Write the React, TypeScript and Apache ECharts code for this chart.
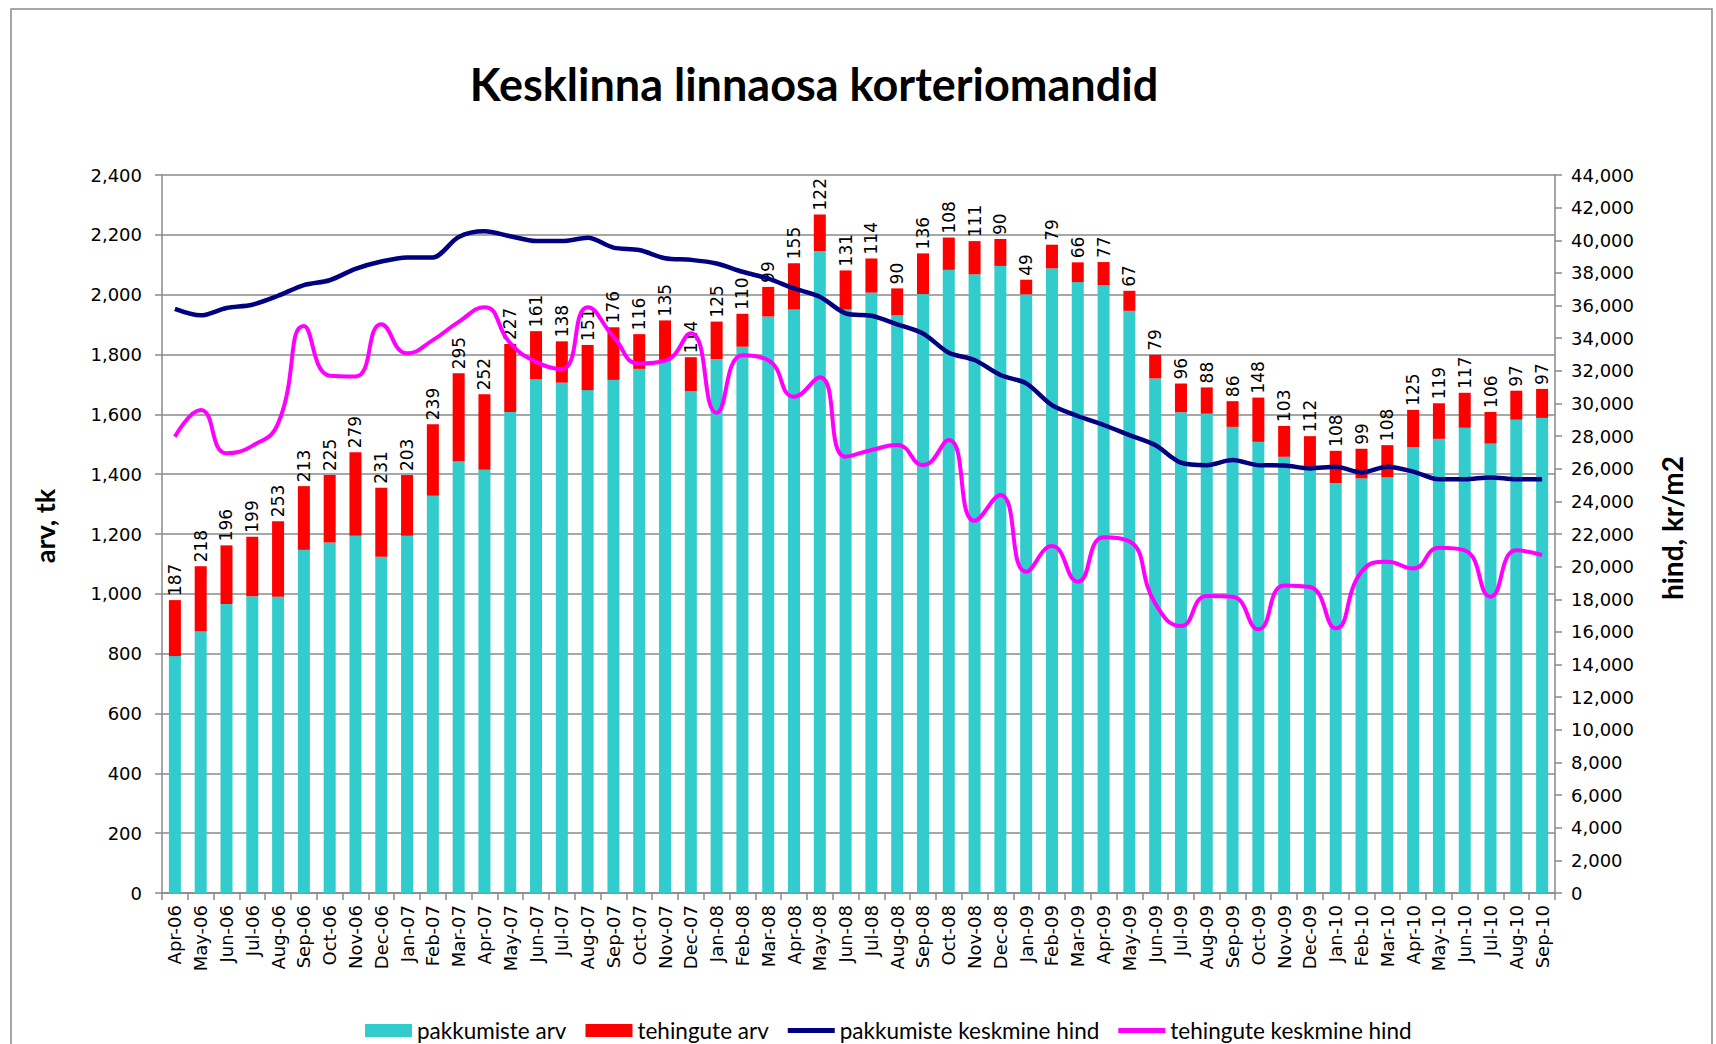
import React, { useEffect, useRef } from "react";
import * as echarts from "echarts";

const categories = [
  "Apr-06", "May-06", "Jun-06", "Jul-06", "Aug-06", "Sep-06", "Oct-06", "Nov-06", "Dec-06",
  "Jan-07", "Feb-07", "Mar-07", "Apr-07", "May-07", "Jun-07", "Jul-07", "Aug-07", "Sep-07", "Oct-07", "Nov-07", "Dec-07",
  "Jan-08", "Feb-08", "Mar-08", "Apr-08", "May-08", "Jun-08", "Jul-08", "Aug-08", "Sep-08", "Oct-08", "Nov-08", "Dec-08",
  "Jan-09", "Feb-09", "Mar-09", "Apr-09", "May-09", "Jun-09", "Jul-09", "Aug-09", "Sep-09", "Oct-09", "Nov-09", "Dec-09",
  "Jan-10", "Feb-10", "Mar-10", "Apr-10", "May-10", "Jun-10", "Jul-10", "Aug-10", "Sep-10",
];

// pakkumiste arv (offers count)
const offers = [
  792, 874, 966, 992, 990, 1147, 1172, 1194, 1124,
  1194, 1328, 1442, 1415, 1608, 1717, 1706, 1681, 1715, 1752, 1779, 1677,
  1785, 1826, 1927, 1950, 2146, 1950, 2007, 1931, 2002, 2083, 2068, 2096,
  2001, 2088, 2042, 2032, 1946, 1720, 1607, 1602, 1558, 1508, 1458, 1415,
  1370, 1386, 1389, 1490, 1518, 1555, 1502, 1582, 1588,
];

// tehingute arv (transactions count)
const deals = [
  187, 218, 196, 199, 253, 213, 225, 279, 231,
  203, 239, 295, 252, 227, 161, 138, 151, 176, 116, 135, 114,
  125, 110, 99, 155, 122, 131, 114, 90, 136, 108, 111, 90,
  49, 79, 66, 77, 67, 79, 96, 88, 86, 148, 103, 112,
  108, 99, 108, 125, 119, 117, 106, 97, 97,
];

// pakkumiste keskmine hind (offers average price)
const offerPrice = [
  35800, 35400, 35850, 36050, 36600, 37250, 37550, 38250, 38700,
  38950, 38950, 40200, 40550, 40250, 39950, 39950, 40150, 39550, 39400, 38900, 38800,
  38580, 38070, 37650, 37050, 36540, 35520, 35370, 34850, 34290, 33110, 32660, 31740,
  31230, 29900, 29230, 28680, 28060, 27450, 26370, 26220, 26530, 26220, 26200, 26020,
  26120, 25760, 26120, 25820, 25350, 25350, 25470, 25350, 25350,
];

// tehingute keskmine hind (transactions average price)
const dealPrice = [
  27960, 29600, 26950, 27400, 28780, 34750, 31700, 31650, 34850,
  33070, 33880, 35000, 35900, 33700, 32550, 32100, 35900, 34090, 32450, 32620, 34300,
  29430, 32950, 32650, 30410, 31600, 26740, 27150, 27450, 26230, 27760, 22810, 24390,
  19690, 21260, 19080, 21800, 21550, 17750, 16360, 18200, 18150, 16160, 18850, 18750,
  16220, 19690, 20300, 19890, 21150, 21000, 18160, 21000, 20710,
];

const GRAY = "#8a8a8a";
const TICK_FONT = "DejaVu Sans";
const LINE_ICON = "path://M0,0 M0,13 M0,4 L47,4 L47,9 L0,9 Z";

export default function App() {
  const ref = useRef<HTMLDivElement>(null);
  useEffect(() => {
    document.body.style.margin = "0";
    const chart = echarts.init(ref.current!, null, { renderer: "svg" });
    const fmt = (v: number) => v.toLocaleString("en-US");
    chart.setOption({
      animation: false,
      backgroundColor: "#ffffff",
      graphic: [
        {
          type: "rect",
          silent: true,
          z: -10,
          shape: { x: 11, y: 9, width: 1701, height: 1100 },
          style: { fill: "none", stroke: GRAY, lineWidth: 1.5 },
        },
        {
          type: "text",
          x: 814,
          y: 84,
          style: {
            text: "Kesklinna linnaosa korteriomandid",
            fontFamily: "Lato",
            fontWeight: "bold",
            fontSize: 45,
            fill: "#000",
            align: "center",
            verticalAlign: "middle",
          },
        },
        {
          type: "text",
          x: 44,
          y: 526,
          rotation: Math.PI / 2,
          style: {
            text: "arv, tk",
            fontFamily: "Lato",
            fontWeight: "bold",
            fontSize: 27,
            fill: "#000",
            align: "center",
            verticalAlign: "middle",
          },
        },
        {
          type: "text",
          x: 1672,
          y: 528,
          rotation: Math.PI / 2,
          style: {
            text: "hind, kr/m2",
            fontFamily: "Lato",
            fontWeight: "bold",
            fontSize: 28,
            fill: "#000",
            align: "center",
            verticalAlign: "middle",
          },
        },
      ],
      legend: {
        left: 360,
        top: 1014,
        itemWidth: 47,
        itemHeight: 13,
        itemGap: 19,
        textStyle: { fontFamily: "Lato", fontSize: 22.5, color: "#000" },
        data: [
          { name: "pakkumiste arv", icon: "rect" },
          { name: "tehingute arv", icon: "rect" },
          { name: "pakkumiste keskmine hind", icon: LINE_ICON },
          { name: "tehingute keskmine hind", icon: LINE_ICON },
        ],
      },
      grid: { left: 162, right: 161, top: 175, bottom: 151 },
      xAxis: {
        type: "category",
        data: categories,
        axisLine: { lineStyle: { color: GRAY, width: 1.5 } },
        axisTick: { show: true, length: 7, interval: 0, lineStyle: { color: GRAY, width: 1.5 } },
        axisLabel: {
          interval: 0,
          rotate: 90,
          margin: 12,
          fontFamily: TICK_FONT,
          fontSize: 18,
          color: "#000",
        },
      },
      yAxis: [
        {
          type: "value",
          min: 0,
          max: 2400,
          interval: 200,
          axisLine: { show: true, lineStyle: { color: GRAY, width: 1.5 } },
          axisTick: { show: true, length: 7, lineStyle: { color: GRAY, width: 1.5 } },
          splitLine: { show: true, lineStyle: { color: GRAY, width: 1.5 } },
          axisLabel: { formatter: fmt, margin: 20, fontFamily: TICK_FONT, fontSize: 18, color: "#000" },
        },
        {
          type: "value",
          min: 0,
          max: 44000,
          interval: 2000,
          position: "right",
          axisLine: { show: true, lineStyle: { color: GRAY, width: 1.5 } },
          axisTick: { show: true, length: 7, lineStyle: { color: GRAY, width: 1.5 } },
          splitLine: { show: false },
          axisLabel: { formatter: fmt, margin: 16, fontFamily: TICK_FONT, fontSize: 18, color: "#000" },
        },
      ],
      series: [
        {
          name: "pakkumiste arv",
          type: "bar",
          stack: "total",
          barWidth: 12,
          data: offers,
          itemStyle: { color: "#33CCCC" },
        },
        {
          name: "tehingute arv",
          type: "bar",
          stack: "total",
          barWidth: 12,
          data: deals,
          itemStyle: { color: "#FF0000" },
          label: {
            show: true,
            position: "top",
            rotate: 90,
            align: "left",
            verticalAlign: "middle",
            distance: 4,
            fontFamily: TICK_FONT,
            fontSize: 17,
            color: "#000",
          },
        },
        {
          name: "pakkumiste keskmine hind",
          type: "line",
          yAxisIndex: 1,
          data: offerPrice,
          symbol: "none",
          smooth: 0.3,
          itemStyle: { color: "#000080" },
          lineStyle: { color: "#000080", width: 4.5 },
        },
        {
          name: "tehingute keskmine hind",
          type: "line",
          yAxisIndex: 1,
          data: dealPrice,
          symbol: "none",
          smooth: 0.5,
          itemStyle: { color: "#FF00FF" },
          lineStyle: { color: "#FF00FF", width: 4 },
        },
      ],
    });
    return () => chart.dispose();
  }, []);
  return <div ref={ref} style={{ width: 1716, height: 1044 }} />;
}
